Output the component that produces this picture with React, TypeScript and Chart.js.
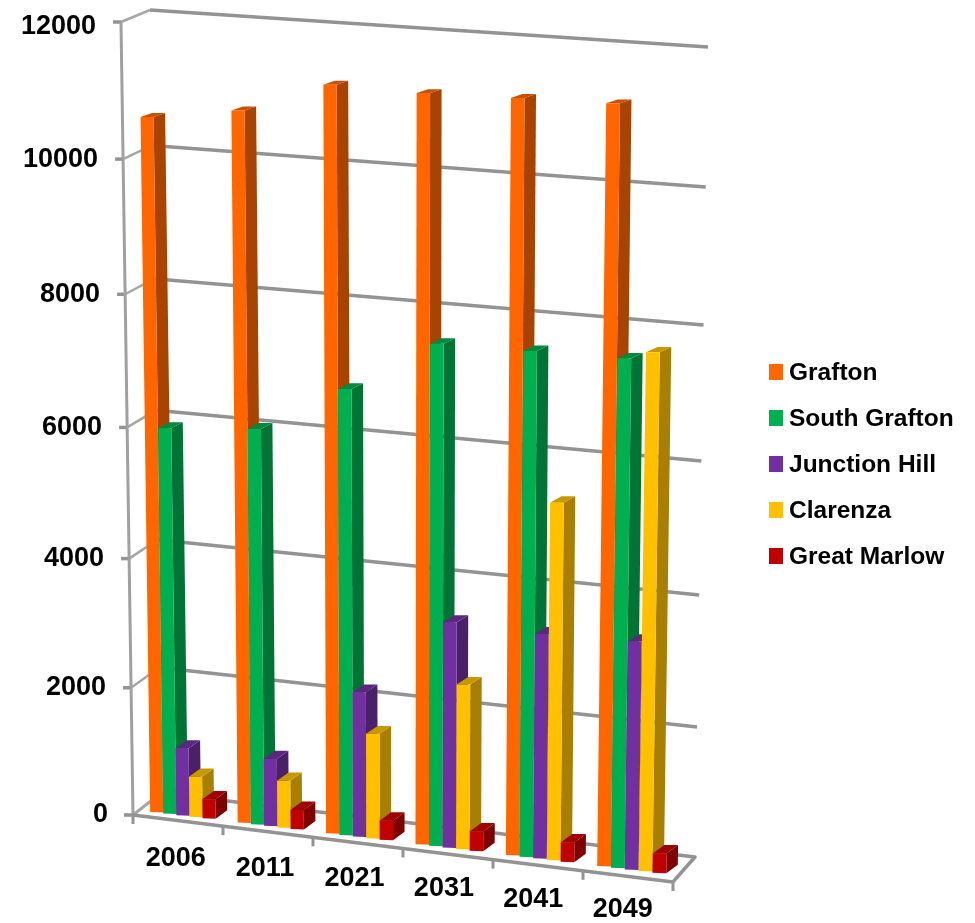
import React, { useEffect, useRef } from "react";
import { Chart, registerables } from "chart.js";

Chart.register(...registerables);

const categories = ["2006", "2011", "2021", "2031", "2041", "2049"];
const grafton = [10570, 10785, 11280, 11280, 11330, 11375];
const southGrafton = [5960, 6090, 6830, 7640, 7670, 7700];
const junctionHill = [1055, 1050, 2250, 3480, 3455, 3500];
const clarenza = [630, 735, 1630, 2550, 5460, 7830];
const greatMarlow = [300, 300, 300, 300, 300, 300];

const seriesNames = ["Grafton", "South Grafton", "Junction Hill", "Clarenza", "Great Marlow"];
const frontColors = ["#FF6600", "#00B050", "#7030A0", "#FFC000", "#C00000"];
const sideColors = ["#A84400", "#007435", "#4A2069", "#A87F00", "#7F0000"];
const topColors = ["#C85000", "#008A40", "#5A2880", "#C89800", "#A00000"];

const FONT = '"Liberation Sans", Arial, sans-serif';
const GRID = "#939393";

// Value fraction (0..1) with the slight perspective of the picture
const warp = (t: number) => t - 0.045 * t * (1 - t);
const lerp = (a: number, b: number, t: number) => a + (b - a) * t;

const frontAxis = (t: number) => ({ x: lerp(133, 121, t), y: lerp(815, 22, t) });
const backLeft = (t: number) => ({ x: lerp(161, 150, t), y: lerp(793, 10, t) });
const backRight = (t: number) => ({ x: lerp(695, 708, t), y: lerp(857, 47, t) });
const floorFrontY = (x: number) => 815 + (x - 133) * 0.124;
// Horizontal perspective: bars crowd slightly towards the left
const warpX = (x: number) => {
  const u = (x - 150) / 447;
  return x - 12 * u * (1 - u);
};

const line = (ctx: CanvasRenderingContext2D, pts: { x: number; y: number }[], color: string, width: number) => {
  ctx.beginPath();
  pts.forEach((p, i) => (i ? ctx.lineTo(p.x, p.y) : ctx.moveTo(p.x, p.y)));
  ctx.strokeStyle = color;
  ctx.lineWidth = width;
  ctx.lineJoin = "round";
  ctx.stroke();
};

const poly = (ctx: CanvasRenderingContext2D, pts: number[][], color: string) => {
  ctx.beginPath();
  pts.forEach((p, i) => (i ? ctx.lineTo(p[0], p[1]) : ctx.moveTo(p[0], p[1])));
  ctx.closePath();
  ctx.fillStyle = color;
  ctx.fill();
};

const scene = {
  id: "scene3d",
  beforeDatasetsDraw(chart: any) {
    const ctx: CanvasRenderingContext2D = chart.ctx;
    const { x: xs, y: ys } = chart.scales;
    const frac = (v: number) => warp((ys.bottom - ys.getPixelForValue(v)) / (ys.bottom - ys.top));
    ctx.save();
    // floor
    line(ctx, [backLeft(0), backRight(0), { x: 673, y: floorFrontY(673) }], GRID, 3.5);
    line(ctx, [frontAxis(0), backLeft(0)], "#A6A6A6", 3);
    // wall grid
    ys.ticks.forEach((tick: any) => {
      const t = frac(tick.value);
      if (t > 0) {
        const f = frontAxis(t);
        line(ctx, [{ x: f.x - 8, y: f.y }, f], GRID, 3.5);
        line(ctx, [f, backLeft(t)], "#A6A6A6", 2.5);
        line(ctx, [backLeft(t), backRight(t)], GRID, 3.5);
      }
    });
    // front axes
    line(ctx, [frontAxis(1), frontAxis(0)], "#A0A0A0", 3);
    line(ctx, [{ x: 124, y: 815 }, frontAxis(0), { x: 673, y: floorFrontY(673) }], GRID, 3.5);
    line(ctx, [{ x: 133, y: 815 }, { x: 133, y: 824 }], GRID, 3);
    xs.ticks.forEach((_: any, i: number) => {
      const pitch = xs.getPixelForValue(1) - xs.getPixelForValue(0);
      const X = 133 + ((xs.getPixelForValue(i) + pitch / 2 - 133) * 90) / pitch;
      line(ctx, [{ x: X, y: floorFrontY(X) }, { x: X, y: floorFrontY(X) + 9 }], GRID, 3);
    });
    // tick labels
    ctx.fillStyle = "#000";
    ctx.font = `bold 27px ${FONT}`;
    ctx.textAlign = "right";
    ctx.textBaseline = "middle";
    ys.ticks.forEach((tick: any) => {
      const t = frac(tick.value);
      const f = frontAxis(t);
      ctx.fillText(String(tick.value), f.x - 25, f.y + (tick.value === 12000 ? 5 : 0));
    });
    ctx.textAlign = "center";
    xs.ticks.forEach((_: any, i: number) => {
      const X = xs.getPixelForValue(i) - 2;
      ctx.fillText(xs.getLabelForValue(i), X, 858 + (X - 175) * 0.115);
    });
    // legend
    ctx.textAlign = "left";
    ctx.font = `bold 24.5px ${FONT}`;
    chart.data.datasets.forEach((ds: any, i: number) => {
      const y = 372 + i * 46;
      ctx.fillStyle = ds.backgroundColor;
      ctx.fillRect(769, y - 8, 14, 16);
      ctx.fillStyle = "#000";
      ctx.fillText(ds.label, 789, y + 1);
    });
    // bars: series in order, so later ones stand in front of earlier ones
    chart.data.datasets.forEach((_: any, i: number) => {
      chart.getDatasetMeta(i).data.forEach((el: any) => {
        const x0 = warpX(el.x - el.width / 2 + 6);
        const x1 = warpX(el.x + el.width / 2 + 6);
        const t = warp((ys.bottom - el.y) / (ys.bottom - ys.top));
        const baseY = (x: number) => 812 + (x - 150) * 0.121;
        const height = (x: number) => 793 + 0.03 * (x - 140);
        const drift = (-11 + (x0 - 150) * 0.0459) * t;
        const topY = baseY(x0) - t * height(x0);
        const bl = [x0, baseY(x0)];
        const br = [x1, baseY(x0) + 0.5];
        const tl = [x0 + drift, topY];
        const tr = [x1 + drift, topY];
        const dx = 11.5;
        const dyTop = -(8.5 - 5 * t);
        poly(ctx, [tr, [tr[0] + dx, tr[1] + dyTop], [br[0] + dx, br[1] - 8.5], br], sideColors[i]);
        poly(ctx, [tl, [tl[0] + dx, tl[1] + dyTop], [tr[0] + dx, tr[1] + dyTop], tr], topColors[i]);
        poly(ctx, [tl, tr, br, bl], frontColors[i]);
      });
    });
    ctx.restore();
  },
  beforeDatasetDraw() {
    return false;
  },
};

const seriesValues = [grafton, southGrafton, junctionHill, clarenza, greatMarlow];

export default function App() {
  const ref = useRef<HTMLCanvasElement>(null);
  useEffect(() => {
    document.body.style.margin = "0";
    document.body.style.background = "#fff";
    const chart = new Chart(ref.current as HTMLCanvasElement, {
      type: "bar",
      data: {
        labels: categories,
        datasets: seriesNames.map((label, i) => ({
          label,
          data: seriesValues[i],
          backgroundColor: frontColors[i],
          categoryPercentage: 0.75,
          barPercentage: 1,
        })),
      },
      options: {
        responsive: false,
        animation: false,
        layout: { padding: { left: 133, right: 305.6, top: 22, bottom: 108 } },
        plugins: { legend: { display: false }, tooltip: { enabled: false }, title: { display: false } },
        scales: {
          x: { display: false },
          y: { display: false, min: 0, max: 12000, ticks: { stepSize: 2000 } },
        },
      },
      plugins: [scene],
    } as any);
    return () => chart.destroy();
  }, []);
  return <canvas ref={ref} width={975} height={923} style={{ display: "block", filter: "blur(0.5px)" }} />;
}
